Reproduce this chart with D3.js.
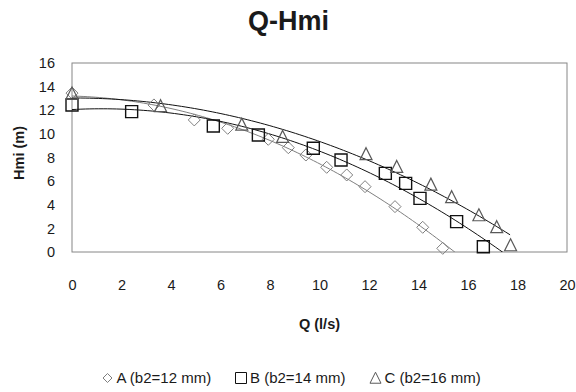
<!DOCTYPE html>
<html lang="en">
<head>
<meta charset="UTF-8">
<title>Q-Hmi</title>
<script src="https://cdn.jsdelivr.net/npm/d3@7"></script>
<style>
    body { margin: 0; background: #fff; }
    svg text { font-family: "Liberation Sans", Arial, sans-serif; fill: #1a1a1a; }
    .title { font-size: 27px; font-weight: 700; }
    .axis-title { font-size: 14.5px; font-weight: 700; }
    .tick text { font-size: 14.5px; }
    .legend text { font-size: 15px; }
</style>
</head>
<body>
<div id="chart"></div>
<script>
// values
const qA = [0, 3.31, 4.94, 6.29, 7.93, 8.74, 9.45, 10.29, 11.1, 11.84, 13.05, 14.17, 14.98];
const hA = [13.45, 12.45, 11.18, 10.47, 9.54, 8.83, 8.21, 7.17, 6.52, 5.53, 3.84, 2.09, 0.31];
const qB = [0, 2.41, 5.71, 7.53, 9.75, 10.87, 12.66, 13.48, 14.06, 15.54, 16.62];
const hB = [12.45, 11.88, 10.67, 9.91, 8.78, 7.79, 6.66, 5.81, 4.54, 2.57, 0.45];
const qC = [0, 3.58, 6.86, 8.51, 11.88, 13.12, 14.5, 15.34, 16.44, 17.16, 17.72];
const hC = [13.43, 12.36, 10.8, 9.76, 8.3, 7.22, 5.72, 4.66, 3.13, 2.12, 0.59];
const seriesNames = ["A (b2=12 mm)", "B (b2=14 mm)", "C (b2=16 mm)"];
const trendEnd = [16, 18, 17.7];
const xTicks = [0, 2, 4, 6, 8, 10, 12, 14, 16, 18, 20];
const yTicks = [0, 2, 4, 6, 8, 10, 12, 14, 16];

const width = 576, height = 392;
const margin = { left: 72, right: 9, top: 63, bottom: 140 };

const svg = d3.select("#chart").append("svg")
    .attr("width", width)
    .attr("height", height);

const x = d3.scaleLinear().domain([0, 20]).range([margin.left, width - margin.right]);
const y = d3.scaleLinear().domain([0, 16]).range([height - margin.bottom, margin.top]);

const series = [
    { name: seriesNames[0], q: qA, h: hA, shape: "diamond", stroke: "#7f7f7f", line: "#7f7f7f", sw: 1 },
    { name: seriesNames[1], q: qB, h: hB, shape: "square", stroke: "#111", line: "#111", sw: 1.4 },
    { name: seriesNames[2], q: qC, h: hC, shape: "triangle", stroke: "#595959", line: "#111", sw: 1.2 }
];

// marker outlines, centred on 0,0
function shapePath(shape, r) {
    if (shape === "diamond") return `M0,${-r}L${r},0L0,${r}L${-r},0Z`;
    if (shape === "square") return `M${-r},${-r}H${r}V${r}H${-r}Z`;
    return `M0,${-r * 1.05}L${r},${r * 0.95}H${-r}Z`;
}

// order-2 least squares, like the spreadsheet trendline
function polyFit(xs, ys) {
    const n = xs.length;
    let s = [0, 0, 0, 0, 0], t = [0, 0, 0];
    xs.forEach((xi, i) => {
        for (let k = 0; k < 5; k++) s[k] += Math.pow(xi, k);
        for (let k = 0; k < 3; k++) t[k] += ys[i] * Math.pow(xi, k);
    });
    const m = [[s[0], s[1], s[2], t[0]], [s[1], s[2], s[3], t[1]], [s[2], s[3], s[4], t[2]]];
    for (let i = 0; i < 3; i++) {
        for (let j = i + 1; j < 3; j++) {
            const f = m[j][i] / m[i][i];
            for (let k = i; k < 4; k++) m[j][k] -= f * m[i][k];
        }
    }
    const c = [0, 0, 0];
    for (let i = 2; i >= 0; i--) {
        let v = m[i][3];
        for (let k = i + 1; k < 3; k++) v -= m[i][k] * c[k];
        c[i] = v / m[i][i];
    }
    return q => c[0] + c[1] * q + c[2] * q * q;
}

svg.append("text")
    .attr("class", "title")
    .attr("x", 288.5)
    .attr("y", 30)
    .attr("text-anchor", "middle")
    .text("Q-Hmi");

// axes (labels only, the frame is drawn below)
svg.append("g")
    .attr("transform", `translate(${margin.left},0)`)
    .call(d3.axisLeft(y).tickValues(yTicks).tickSize(0).tickPadding(17))
    .call(g => g.select(".domain").remove());

svg.append("g")
    .attr("transform", `translate(0,${y(0)})`)
    .call(d3.axisBottom(x).tickValues(xTicks).tickSize(0).tickPadding(28))
    .call(g => g.select(".domain").remove());

svg.selectAll(".tick text").attr("fill", "#1a1a1a").style("font-family", "Liberation Sans, Arial, sans-serif");

svg.append("rect")
    .attr("x", x(0))
    .attr("y", y(16))
    .attr("width", x(20) - x(0))
    .attr("height", y(0) - y(16))
    .attr("fill", "none")
    .attr("stroke", "#868686")
    .attr("stroke-width", 1);

svg.append("text")
    .attr("class", "axis-title")
    .attr("transform", "translate(18.5,153) rotate(-90)")
    .attr("text-anchor", "middle")
    .attr("dy", "0.35em")
    .text("Hmi (m)");

svg.append("text")
    .attr("class", "axis-title")
    .attr("x", (x(0) + x(20)) / 2)
    .attr("y", 329)
    .attr("text-anchor", "middle")
    .text("Q (l/s)");

svg.append("clipPath")
    .attr("id", "plot-clip")
    .append("rect")
    .attr("x", x(0))
    .attr("y", y(16))
    .attr("width", x(20) - x(0))
    .attr("height", y(0) - y(16));

const line = d3.line().x(d => x(d[0])).y(d => y(d[1]));

const plot = svg.append("g");

series.forEach((s, i) => {
    const f = polyFit(s.q, s.h);
    const pts = d3.range(0, 101).map(k => {
        const q = trendEnd[i] * k / 100;
        return [q, f(q)];
    });
    plot.append("path")
        .attr("d", line(pts))
        .attr("fill", "none")
        .attr("stroke", s.line)
        .attr("stroke-width", 1)
        .attr("clip-path", "url(#plot-clip)");
});

series.forEach(s => {
    plot.append("g")
        .selectAll("path")
        .data(s.q.map((q, i) => [q, s.h[i]]))
        .join("path")
        .attr("transform", d => `translate(${x(d[0])},${y(d[1])})`)
        .attr("d", shapePath(s.shape, 6))
        .attr("fill", "none")
        .attr("stroke", s.stroke)
        .attr("stroke-width", s.sw);
});

// legend
const legendX = [107.5, 241, 375.5];
const legend = svg.append("g").attr("class", "legend");
series.forEach((s, i) => {
    legend.append("path")
        .attr("transform", `translate(${legendX[i]},378)`)
        .attr("d", shapePath(s.shape, s.shape === "diamond" ? 4.5 : 5.5))
        .attr("fill", "none")
        .attr("stroke", s.stroke)
        .attr("stroke-width", 1);
    legend.append("text")
        .attr("x", legendX[i] + 9)
        .attr("y", 383)
        .text(s.name);
});
</script>
</body>
</html>
